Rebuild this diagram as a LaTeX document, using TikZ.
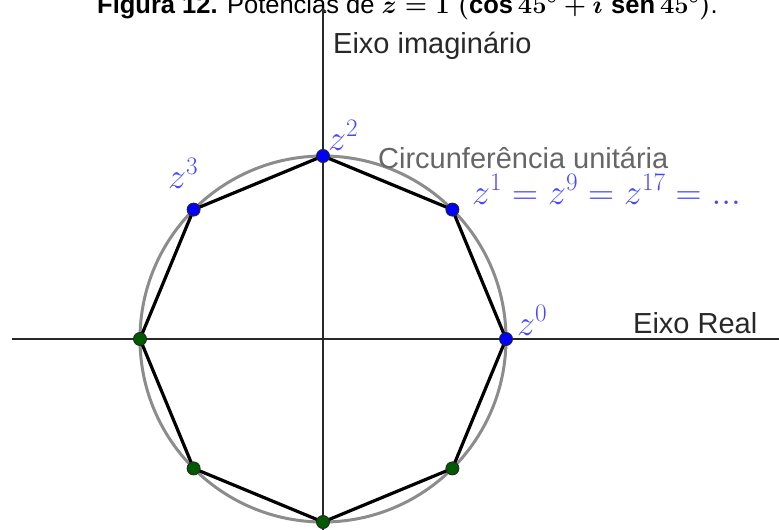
\RequirePackage{fix-cm}
\documentclass[tikz,border=0pt]{standalone}
\usepackage{fontspec}
\setmainfont{Liberation Sans}
\usepackage{amsmath}
\usetikzlibrary{calc}
\definecolor{ptblue}{RGB}{0,0,255}
\definecolor{ptgreen}{RGB}{0,90,0}
\definecolor{lblblue}{RGB}{70,70,255}
\definecolor{circgray}{RGB}{140,140,140}
\definecolor{axgray}{RGB}{40,40,40}
\tikzset{
  ptdot/.style={circle,draw=black!85,line width=0.9pt,inner sep=0pt,minimum size=13pt},
  lbl/.style={anchor=base west,inner sep=0pt,text=axgray,font=\fontsize{29}{31}\selectfont},
  mlbl/.style={anchor=base west,inner sep=0pt,text=lblblue,font=\fontsize{36}{38}\selectfont}
}

\begin{document}
\begin{tikzpicture}[x=1pt,y=-1pt]
\useasboundingbox (0,0) rectangle (779,530);
% title (cut at the top edge)
\node[anchor=base west,inner sep=0pt,font=\fontsize{25.5}{28}\selectfont] (title) at (97,13)
  {\textbf{Figura 12.} Potências de {\boldmath$z=1\;(\cos 45^\circ+i\;\mathrm{sen}\,45^\circ)$}.};
% axes
\coordinate (O) at (323,339);
\coordinate (xl) at (12,339); \coordinate (xr) at (790,339);
\coordinate (yb) at (323,540); \coordinate (yt) at (323,8);
\draw[axgray,line width=1.4pt] (xl)--(xr); \draw[axgray,line width=1.4pt,->] (yb)--(yt);
% unit circle and octagon
\draw[circgray,line width=3pt] (O) circle (183pt);
\foreach \k in {0,...,7} \coordinate (v\k) at ($(O)+(-45*\k:183)$);
\draw[line width=3.2pt,line join=round] (v0)--(v1)--(v2)--(v3)--(v4)--(v5)--(v6)--(v7)--cycle;
\foreach \k in {0,...,3} \node[ptdot,fill=ptblue] (p\k) at (v\k) {};
\foreach \k in {4,...,7} \node[ptdot,fill=ptgreen] (p\k) at (v\k) {};
% labels
\node[lbl] (eixoim) at (333,53) {Eixo imaginário};
\node[lbl,text=black!60] (circ) at (378,168) {Circunferência unitária};
\node[lbl] (eixore) at (633,333) {Eixo Real};
\node[mlbl] (l0) at (517,335) {$z^0$};
\node[mlbl] (l1) at (472,204) {$z^1=z^9=z^{17}=...$};
\node[mlbl] (l2) at (328,150) {$z^2$};
\node[mlbl] (l3) at (168,188) {$z^3$};
\end{tikzpicture}
\end{document}
